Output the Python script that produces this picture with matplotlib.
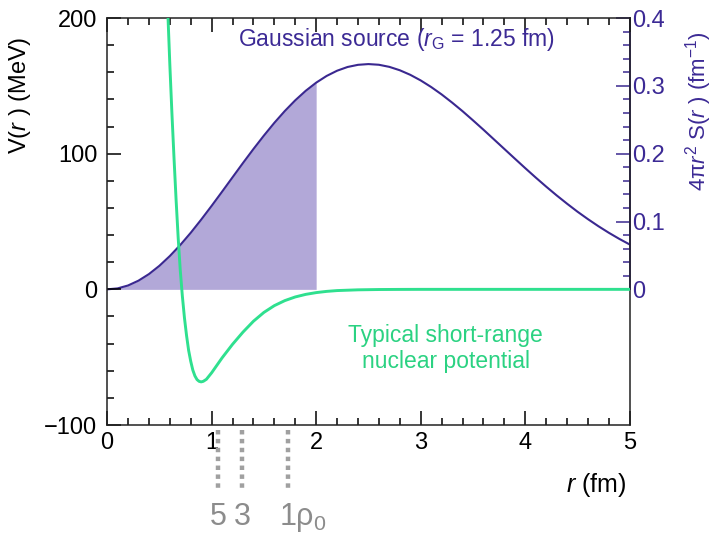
import matplotlib
matplotlib.use("Agg")
import matplotlib.pyplot as plt
from matplotlib.ticker import MultipleLocator

plt.rcParams['font.family'] = ['Liberation Sans', 'DejaVu Sans']
plt.rcParams['mathtext.fontset'] = 'custom'
plt.rcParams['mathtext.rm'] = 'Liberation Sans'
plt.rcParams['mathtext.it'] = 'Liberation Sans:italic'
plt.rcParams['mathtext.bf'] = 'Liberation Sans:bold'

# Gaussian source 4*pi*r^2*S(r) (fm^-1)
r_src = [0.0, 0.1, 0.2, 0.3, 0.4, 0.5, 0.6, 0.7, 0.8, 0.9,
         1.0, 1.1, 1.2, 1.3, 1.4, 1.5, 1.6, 1.7, 1.8, 1.9,
         2.0, 2.1, 2.2, 2.3, 2.4, 2.5, 2.6, 2.7, 2.8, 2.9,
         3.0, 3.1, 3.2, 3.3, 3.4, 3.5, 3.6, 3.7, 3.8, 3.9,
         4.0, 4.1, 4.2, 4.3, 4.4, 4.5, 4.6, 4.7, 4.8, 4.9, 5.0]
s_src = [0.0, 0.0014, 0.0057, 0.0128, 0.0225, 0.0347, 0.0491, 0.0654, 0.0834, 0.1028,
         0.1231, 0.1440, 0.1652, 0.1863, 0.2069, 0.2267, 0.2455, 0.2629, 0.2787, 0.2927,
         0.3047, 0.3146, 0.3223, 0.3278, 0.3310, 0.3321, 0.3311, 0.3280, 0.3230, 0.3163,
         0.3080, 0.2983, 0.2874, 0.2754, 0.2627, 0.2492, 0.2354, 0.2212, 0.2070, 0.1928,
         0.1787, 0.1649, 0.1515, 0.1386, 0.1263, 0.1145, 0.1035, 0.0931, 0.0834, 0.0744, 0.0661]

# Typical short-range nuclear potential V(r) (MeV)
r_pot = [0.56, 0.58, 0.60, 0.62, 0.64, 0.66, 0.68, 0.70, 0.72, 0.74,
         0.76, 0.78, 0.80, 0.82, 0.84, 0.86, 0.88, 0.90, 0.92, 0.95,
         1.00, 1.05, 1.10, 1.15, 1.20, 1.25, 1.30, 1.35, 1.40, 1.50,
         1.60, 1.70, 1.80, 1.90, 2.00, 2.10, 2.20, 2.40, 2.60, 2.80,
         3.00, 4.00, 5.00]
v_pot = [250, 206, 166, 130, 97, 66, 38, 14, -5, -21,
         -34, -45, -53, -59.5, -63.8, -66.5, -67.8, -68.2, -67.8, -66.3,
         -61.5, -56, -50.5, -45.5, -40.5, -36, -31.5, -27.5, -23.5, -17,
         -12, -8.3, -5.6, -3.7, -2.4, -1.5, -0.9, -0.35, -0.12, -0.04,
         0, 0, 0]

fill_max_r = 2.0
density_r = [1.06, 1.29, 1.73]
density_labels = ['5', '3', '1ρ$_0$']

purple = '#3a2890'
purple_txt = '#3c2a95'
fill_col = '#b2a8d8'
green = '#2fe08f'
green_txt = '#2bd282'
gray = '#8c8c8c'

fig = plt.figure(figsize=(7.14, 5.38), dpi=100)
ax = fig.add_axes([0.150, 0.210, 0.732, 0.7565])
ax2 = ax.twinx()

ax.set_xlim(0, 5)
ax.set_ylim(-100, 200)
ax2.set_ylim(-0.2, 0.4)

# Source: fill up to 2 fm and curve
xs_fill = [r for r in r_src if r <= fill_max_r + 1e-9]
ys_fill = s_src[:len(xs_fill)]
ax2.fill_between(xs_fill, 0, ys_fill, color=fill_col, lw=0, zorder=1)
ax2.plot(r_src, s_src, color=purple, lw=1.5, zorder=3)

# Potential
ax2.set_zorder(1)
ax.set_zorder(2)
ax.patch.set_visible(False)
ax.plot(r_pot, v_pot, color=green, lw=2.1, zorder=4, clip_on=True)

TS = 17
# ticks
ax.xaxis.set_major_locator(MultipleLocator(1))
ax.xaxis.set_minor_locator(MultipleLocator(0.2))
ax.yaxis.set_major_locator(MultipleLocator(100))
ax.yaxis.set_minor_locator(MultipleLocator(20))
ax.tick_params(axis='both', which='both', direction='in', top=True, right=False,
               labelsize=TS, colors='black', width=1.1)
ax.tick_params(which='major', length=10)
ax.tick_params(which='minor', length=5)
ax.tick_params(axis='x', pad=5)
ax.tick_params(axis='y', pad=7)
ax.set_yticks([-100, 0, 100, 200])
ax.set_yticklabels(['\u2212100', '0', '100', '200'])

ax2.set_yticks([0, 0.1, 0.2, 0.3, 0.4])
ax2.set_yticklabels(['0', '0.1', '0.2', '0.3', '0.4'])
ax2.set_yticks([v / 100 for v in range(2, 40, 2) if v % 10], minor=True)
ax2.tick_params(axis='y', which='both', direction='in', labelsize=TS,
                colors=purple, labelcolor=purple_txt, width=1.1, pad=2)
ax2.tick_params(which='major', length=10)
ax2.tick_params(which='minor', length=5)
ax2.spines['right'].set_bounds(0, 0.4)
ax2.spines['right'].set_color(purple)
ax2.spines['right'].set_linewidth(1.3)
for s in ['left', 'top', 'bottom']:
    ax2.spines[s].set_visible(False)
for s in ax.spines.values():
    s.set_linewidth(1.1)
    s.set_color('#222222')

ax.set_ylabel('V($r$ ) (MeV)', fontsize=TS)
ax.yaxis.set_label_coords(-0.142, 0.81)
ax2.set_ylabel('4π$r^2$ S($r$ ) (fm$^{-1}$)', fontsize=16, color=purple_txt)
ax2.yaxis.set_label_coords(1.102, 0.772)
ax.set_xlabel('$r$ (fm)', fontsize=TS + 1)
ax.xaxis.set_label_coords(0.935, -0.112)

ax.text(2.77, 184, 'Gaussian source ($r_{\\mathrm{G}}$ = 1.25 fm)', fontsize=16.5,
        color=purple_txt, ha='center', va='center', zorder=6)
ax.text(3.24, -43.5, 'Typical short-range\nnuclear potential', fontsize=16.5,
        color=green_txt, ha='center', va='center', linespacing=1.2, zorder=6)

# density markers below axis
for xr, lab in zip(density_r, density_labels):
    ax.plot([xr, xr], [-104, -148], ls=(0, (1, 1)), lw=3.2, color='#a0a0a0',
            clip_on=False, zorder=5)
    if lab.startswith('1'):
        ax.text(xr - 0.085, -168, lab, fontsize=22, color=gray, ha='left',
                va='center', clip_on=False)
    else:
        ax.text(xr, -168, lab, fontsize=22, color=gray, ha='center',
                va='center', clip_on=False)

fig.savefig('out.png', dpi=100)
